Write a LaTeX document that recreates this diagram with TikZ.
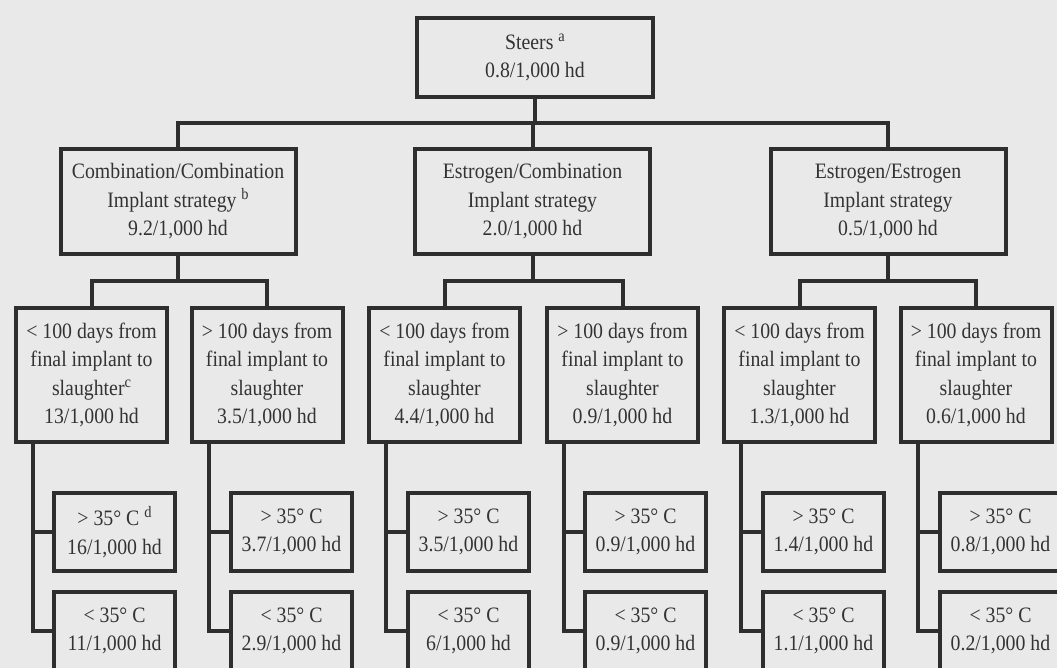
\documentclass[tikz,border=0pt]{standalone}
\usepackage{fontspec}
\setmainfont[FakeStretch=0.9]{Liberation Serif}
\definecolor{bg}{HTML}{E9E9E9}
\definecolor{ink}{HTML}{2E2E2E}
\definecolor{txt}{HTML}{333333}
\newcommand{\sps}[1]{\raisebox{8pt}{\fontsize{16}{16}\selectfont #1}}
\begin{document}
\begin{tikzpicture}[x=1pt,y=-1pt,
  box/.style={draw=ink, line width=4pt, fill=bg, align=center, text=txt,
    font=\fontsize{22}{28.5}\selectfont, inner sep=0pt},
  topbox/.style={box, minimum width=236pt, minimum height=79pt},
  twobox/.style={box, minimum width=235pt, minimum height=105pt},
  threebox/.style={box, minimum width=151pt, minimum height=134pt},
  fourbox/.style={box, minimum width=121pt, minimum height=78pt},
  wire/.style={draw=ink, line width=4pt, line join=miter}]
\useasboundingbox (0,0) rectangle (1057,668);
\clip (0,0) rectangle (1057,668);
\fill[bg] (0,0) rectangle (1057,668);

% level 1
\node[topbox] (st) at (535,57.5) {Steers \sps{a}\\0.8/1,000 hd};
% level 2
\node[twobox] (cc) at (178,201.5) {Combination/Combination\\Implant strategy \sps{b}\\9.2/1,000 hd};
\node[twobox] (ec) at (532.5,201.5) {Estrogen/Combination\\Implant strategy\\2.0/1,000 hd};
\node[twobox] (ee) at (888,201.5) {Estrogen/Estrogen\\Implant strategy\\0.5/1,000 hd};
% level 3
\node[threebox] (d1) at (91.5,375) {< 100 days from\\final implant to\\slaughter\sps{c}\\13/1,000 hd};
\node[threebox] (d2) at (267,375) {> 100 days from\\final implant to\\slaughter\\3.5/1,000 hd};
\node[threebox] (d3) at (444.5,375) {< 100 days from\\final implant to\\slaughter\\4.4/1,000 hd};
\node[threebox] (d4) at (622.5,375) {> 100 days from\\final implant to\\slaughter\\0.9/1,000 hd};
\node[threebox] (d5) at (799.5,375) {< 100 days from\\final implant to\\slaughter\\1.3/1,000 hd};
\node[threebox] (d6) at (976,375) {> 100 days from\\final implant to\\slaughter\\0.6/1,000 hd};
% level 4
\node[fourbox] (h1) at (114.5,532) {> 35° C \sps{d}\\16/1,000 hd};
\node[fourbox] (k1) at (114.5,631) {< 35° C\\11/1,000 hd};
\node[fourbox] (h2) at (291.5,532) {> 35° C\\3.7/1,000 hd};
\node[fourbox] (k2) at (291.5,631) {< 35° C\\2.9/1,000 hd};
\node[fourbox] (h3) at (468.5,532) {> 35° C\\3.5/1,000 hd};
\node[fourbox] (k3) at (468.5,631) {< 35° C\\6/1,000 hd};
\node[fourbox] (h4) at (645.5,532) {> 35° C\\0.9/1,000 hd};
\node[fourbox] (k4) at (645.5,631) {< 35° C\\0.9/1,000 hd};
\node[fourbox] (h5) at (823.5,532) {> 35° C\\1.4/1,000 hd};
\node[fourbox] (k5) at (823.5,631) {< 35° C\\1.1/1,000 hd};
\node[fourbox] (h6) at (1000.5,532) {> 35° C\\0.8/1,000 hd};
\node[fourbox] (k6) at (1000.5,631) {< 35° C\\0.2/1,000 hd};

% connectors level 1 -> 2
\coordinate (bus1) at (535,123);
\draw[wire] (st.south) -- (st.south |- bus1);
\draw[wire] (cc.north) |- (bus1) -| (ee.north);
\draw[wire] (ec.north) -- (ec.north |- bus1);
% level 2 -> 3
\coordinate (busa) at (178,281);
\coordinate (busb) at (532.5,281);
\coordinate (busc) at (888,281);
\draw[wire] (cc.south) -- (busa);
\draw[wire] (d1.north) |- (busa) -| (d2.north);
\draw[wire] (ec.south) -- (busb);
\draw[wire] (d3.north) |- (busb) -| (d4.north);
\draw[wire] (ee.south) -- (busc);
\draw[wire] (d5.north) |- (busc) -| (d6.north);
% level 3 -> 4
\foreach \i in {1,...,6}{
  \draw[wire] ([xshift=19pt]d\i.south west) |- (h\i.west);
  \draw[wire] ([xshift=19pt]d\i.south west) |- (k\i.west);
}
\end{tikzpicture}
\end{document}
